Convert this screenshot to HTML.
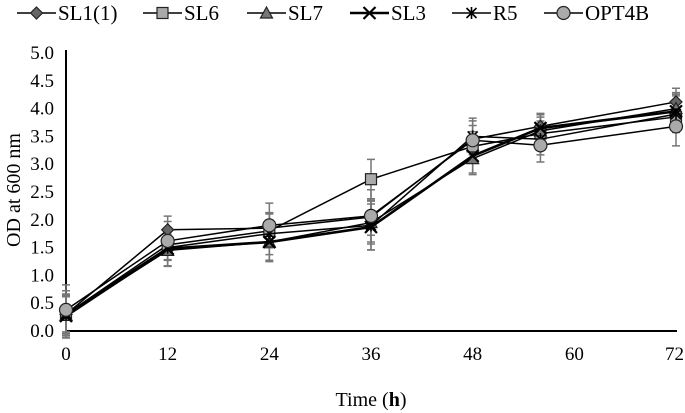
<!DOCTYPE html>
<html><head><meta charset="utf-8"><style>
body{margin:0;background:#fff}
svg{display:block;font-family:"Liberation Serif",serif}
</style></head><body>
<svg id="chart" width="685" height="413" viewBox="0 0 685 413"></svg>
<script>
const times=[0,12,24,36,48,56,72];
const seriesNames=["SL1(1)","SL6","SL7","SL3","R5","OPT4B"];
const sl1=[0.3,1.82,1.85,2.05,3.45,3.68,4.12];
const sl6=[0.3,1.55,1.8,2.73,3.32,3.55,3.85];
const sl7=[0.28,1.45,1.6,1.95,3.1,3.6,4.0];
const sl3=[0.27,1.48,1.6,1.87,3.15,3.65,3.95];
const r5=[0.3,1.5,1.75,1.9,3.5,3.45,3.9];
const opt=[0.38,1.62,1.9,2.07,3.43,3.34,3.68];
const errs=[0.45,0.35,0.4,0.47,0.35,0.3,0.35];
const yTicks=["0.0","0.5","1.0","1.5","2.0","2.5","3.0","3.5","4.0","4.5","5.0"];
const xTicks=[0,12,24,36,48,60,72];
const allSeries=[sl1,sl6,sl7,sl3,r5,opt];
const markers=["diamond","square","triangle","x","star","circle"];
const widths=[1.5,1.5,1.5,2.6,1.5,1.5];

const NS="http://www.w3.org/2000/svg";
const svg=document.getElementById('chart');
const X0=66,XS=610/72,Y0=331,YS=55.6;
const xs=t=>X0+t*XS, ys=v=>Y0-v*YS;
function mk(tag,at,parent){const e=document.createElementNS(NS,tag);for(const k in at)e.setAttribute(k,at[k]);(parent||svg).appendChild(e);return e;}
function marker(type,x,y,g){
  const st={fill:"#999",stroke:"#222","stroke-width":1.2};
  let e;
  if(type==="diamond"){e=mk('polygon',Object.assign({points:`${x},${y-6} ${x+6},${y} ${x},${y+6} ${x-6},${y}`},st,{fill:"#666"}),g);}
  else if(type==="square"){e=mk('rect',Object.assign({x:x-5.5,y:y-5.5,width:11,height:11},st,{fill:"#aaa"}),g);}
  else if(type==="triangle"){e=mk('polygon',Object.assign({points:`${x},${y-6} ${x+6},${y+5} ${x-6},${y+5}`},st,{fill:"#777"}),g);}
  else if(type==="x"){e=mk('path',{d:`M${x-6},${y-6}L${x+6},${y+6}M${x+6},${y-6}L${x-6},${y+6}`,stroke:"#000","stroke-width":2.2},g);}
  else if(type==="star"){e=mk('path',{d:`M${x-5},${y-5}L${x+5},${y+5}M${x+5},${y-5}L${x-5},${y+5}M${x},${y-6}L${x},${y+6}`,stroke:"#000","stroke-width":1.6},g);}
  else {e=mk('circle',Object.assign({cx:x,cy:y,r:6.5},st,{fill:"#aaa"}),g);}
  return e;
}
let a=mk('line',{x1:X0,y1:50,x2:X0,y2:Y0+1,stroke:"#000","stroke-width":2});

a=mk('line',{x1:X0-1,y1:Y0,x2:677,y2:Y0,stroke:"#000","stroke-width":2});

yTicks.forEach((l,i)=>{const t=mk('text',{x:54,y:ys(i*0.5)+6,"text-anchor":"end","font-size":19});t.textContent=l;
 });
xTicks.forEach((v,i)=>{const last=i===xTicks.length-1;
 const t=mk('text',{x:last?684:xs(v),y:360,"text-anchor":last?"end":"middle","font-size":19});t.textContent=v;
 });
let t=mk('text',{x:0,y:0,transform:"translate(20,190) rotate(-90)","text-anchor":"middle","font-size":20});t.textContent="OD at 600 nm";

t=mk('text',{x:371,y:406,"text-anchor":"middle","font-size":20});t.innerHTML='Time (<tspan font-weight="bold">h</tspan>)';

allSeries.forEach((s,si)=>{
  const g=mk('g',{});
  
  
  s.forEach((v,i)=>{const e=errs[i]*(0.7+0.06*si);const x=xs(times[i]);
    mk('path',{d:`M${x},${ys(v-e)}L${x},${ys(v+e)}M${x-4},${ys(v-e)}L${x+4},${ys(v-e)}M${x-4},${ys(v+e)}L${x+4},${ys(v+e)}`,stroke:"#777","stroke-width":1.5,fill:"none"},g);});
});
allSeries.forEach((s,si)=>{
  const g=mk('g',{});
  
  
  const p=mk('polyline',{points:s.map((v,i)=>xs(times[i])+","+ys(v)).join(" "),fill:"none",stroke:"#000","stroke-width":widths[si]},g);
  
  s.forEach((v,i)=>{const m=marker(markers[si],xs(times[i]),ys(v),g);
    
    });
});
const lx=[17,143,247,350,452,544];
seriesNames.forEach((n,i)=>{
  const g=mk('g',{});
  
  
  mk('line',{x1:lx[i],y1:13,x2:lx[i]+39,y2:13,stroke:"#000","stroke-width":widths[i]},g);
  marker(markers[i],lx[i]+19.5,13,g);
  const tt=mk('text',{x:lx[i]+41,y:20,"font-size":21},g);tt.textContent=n;
});
</script>
</body></html>
